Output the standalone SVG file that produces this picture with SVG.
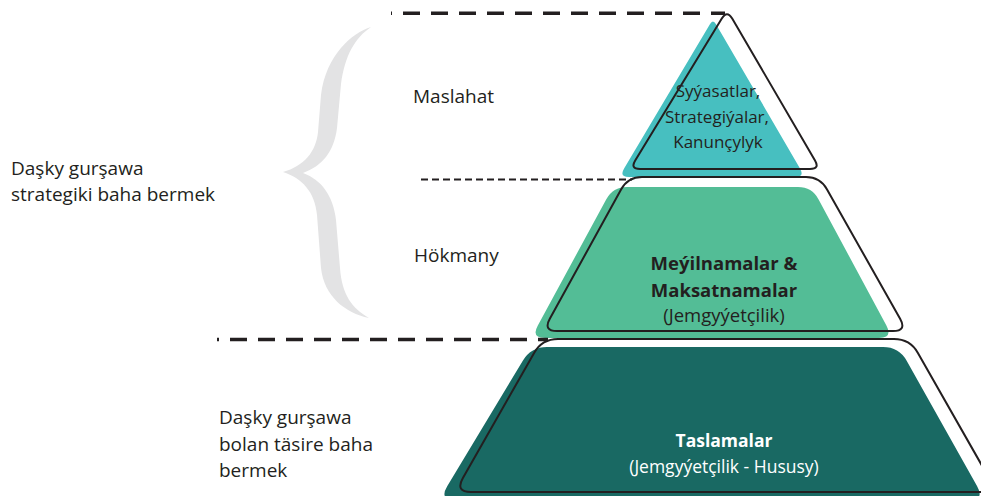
<svg xmlns="http://www.w3.org/2000/svg" width="981" height="496" viewBox="0 0 981 496">
<style>
.t{font-family:"Open Sans","Noto Sans","Liberation Sans",sans-serif;fill:#231F20}
.side{font-size:19px}
.c{text-anchor:middle}
.b{font-weight:bold}
.outline{fill:none;stroke:#231F20;stroke-width:2;stroke-linejoin:round}
.dash{fill:none;stroke:#231F20}
</style>
<rect width="981" height="496" fill="#FFFFFF"/>
<g id="brace">
<path fill="#E3E3E4" d="M371,27 C352,33 326,55 321,95 L318,132 C316,152 304,166 283,172 C302,178 315,192 317,215 L321,268 C324,296 345,313 369,318 C352,308 342,295 340,268 L336,220 C333,196 322,180 303,173 C322,166 334,152 337,128 L341,84 C345,55 355,38 371,27 Z"/>
</g>
<g id="tier-top">
<path fill="#47BFC0" d="M709.9,24.2 Q713,19 716,24.2 L800,168.4 Q805,177 795,177 L629,177 Q619,177 624.1,168.4 Z"/>
</g>
<g id="tier-middle">
<path fill="#53BD96" d="M627,187 L798,187 Q812,187 818.6,199.4 L886.4,325.6 Q893,338 879,338 L545,338 Q531,338 537.7,325.7 L606.3,199.3 Q613,187 627,187 Z"/>
</g>
<g id="tier-bottom">
<path fill="#196963" d="M547,347 L883,347 Q899,347 906.8,360.9 L977,486 Q985,500 969,500 L455,500 Q439,500 447.2,486.3 L522.8,360.7 Q531,347 547,347 Z"/>
</g>
<g id="outlines">
<path class="outline" d="M721.8,18.6 Q727,10 732.2,18.6 L815,160.4 Q820,169 810,169 L640,169 Q630,169 635.2,160.4 Z"/>
<path class="outline" d="M642,177 L806,177 Q820,177 826.9,189.2 L900.1,318.8 Q907,331 893,331 L557,331 Q543,331 549.8,318.75 L621.2,189.3 Q628,177 642,177 Z"/>
<path class="outline" d="M558,339 L894,339 Q910,339 917.9,352.9 L989.1,478.1 Q997,492 981,492 L471,492 Q455,492 462.9,478.1 L534.1,352.9 Q542,339 558,339 Z"/>
</g>
<g id="connectors">
<line class="dash" x1="391" y1="13.3" x2="725" y2="13.3" stroke-width="3.5" stroke-dasharray="17 11" stroke-dashoffset="16"/>
<line class="dash" x1="421" y1="179.5" x2="632" y2="179.5" stroke-width="2" stroke-dasharray="7 4"/>
<line class="dash" x1="217" y1="339.5" x2="548" y2="339.5" stroke-width="3.5" stroke-dasharray="17 11" stroke-dashoffset="15"/>
</g>
<g id="labels-side">
<text class="t side" x="11" y="175">Daşky gurşawa</text>
<text class="t side" x="11" y="201">strategiki baha bermek</text>
<text class="t side" x="413" y="103">Maslahat</text>
<text class="t side" x="414" y="262">Hökmany</text>
<text class="t side" x="219" y="424">Daşky gurşawa</text>
<text class="t side" x="219" y="451">bolan täsire baha</text>
<text class="t side" x="219" y="477">bermek</text>
</g>
<g id="labels-top">
<text class="t c" x="718" y="97" font-size="17">Syýasatlar,</text>
<text class="t c" x="717" y="123" font-size="17">Strategiýalar,</text>
<text class="t c" x="718" y="148" font-size="17">Kanunçylyk</text>
</g>
<g id="labels-middle">
<text class="t c b" x="724" y="270" font-size="18.5">Meýilnamalar &amp;</text>
<text class="t c b" x="724" y="297" font-size="18.5">Maksatnamalar</text>
<text class="t c" x="724" y="322" font-size="18.5">(Jemgyýetçilik)</text>
</g>
<g id="labels-bottom">
<text class="t c b" x="724" y="447" font-size="17.5" style="fill:#FFFFFF">Taslamalar</text>
<text class="t c" x="724" y="473" font-size="17.5" style="fill:#FFFFFF">(Jemgyýetçilik - Hususy)</text>
</g>
</svg>
